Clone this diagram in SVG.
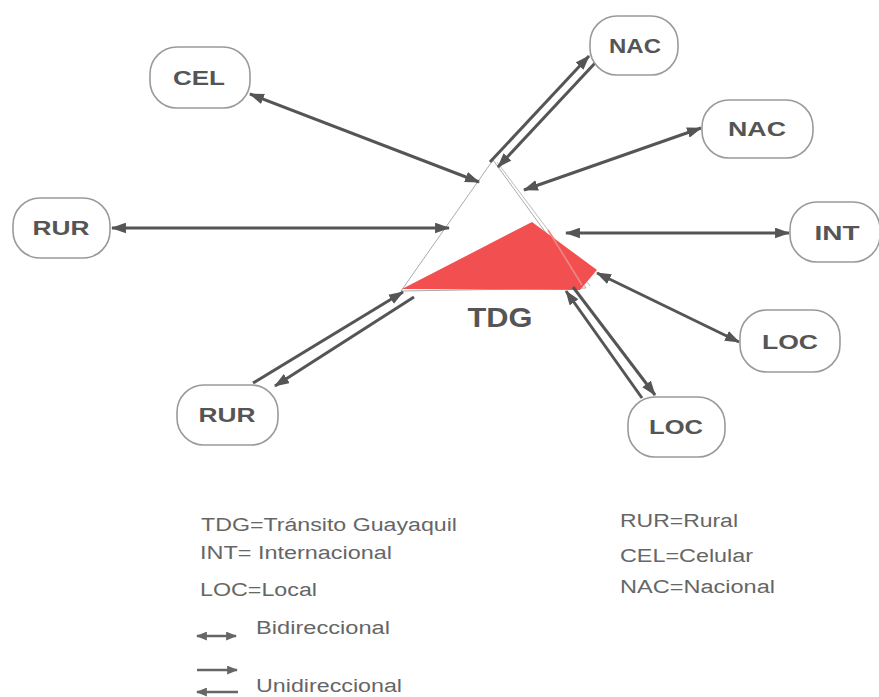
<svg xmlns="http://www.w3.org/2000/svg" width="879" height="697" viewBox="0 0 879 697">
<style>
.node rect{fill:#fff;stroke:#9a9a9a;stroke-width:1.6}
.node text{font-family:"Liberation Sans",Arial,sans-serif;font-weight:bold;font-size:21px;fill:#555;text-anchor:middle}
.c line{stroke:#555;stroke-width:3;fill:none}
.bi{marker-start:url(#ah);marker-end:url(#ah)}
.uni{marker-end:url(#ah)}
.lg line{stroke:#666;stroke-width:2.5}
.lbi{marker-start:url(#sh);marker-end:url(#sh)}
.luni{marker-end:url(#sh)}
.legend text{font-family:"Liberation Sans",Arial,sans-serif;font-size:18px;fill:#666}
</style>
<defs>
<marker id="ah" viewBox="0 0 14 10" refX="13" refY="5" markerWidth="15" markerHeight="11" markerUnits="userSpaceOnUse" orient="auto-start-reverse"><path d="M0,0 L14,5 L0,10 z" fill="#555"/></marker>
<marker id="sh" viewBox="0 0 10 8" refX="9" refY="4" markerWidth="11" markerHeight="9" markerUnits="userSpaceOnUse" orient="auto-start-reverse"><path d="M0,0 L10,4 L0,8 z" fill="#666"/></marker>
</defs>
<rect width="879" height="697" fill="#fff"/>

<g id="TDG">
<polygon points="493,160 401,291 586,288" fill="#fff" stroke="#aaa" stroke-width="1"/>
<line x1="497" y1="162" x2="590" y2="286" stroke="#bbb" stroke-width="1"/>
<polygon points="402,289 532,222 597,270 580,290" fill="#f25050"/>
<line x1="548" y1="230" x2="582" y2="285" stroke="#e88" stroke-width="1.5"/>
<text x="500" y="327" font-family="'Liberation Sans',Arial,sans-serif" font-weight="bold" font-size="27" fill="#555" text-anchor="middle" textLength="65" lengthAdjust="spacingAndGlyphs">TDG</text>
</g>

<g class="c" id="connectors">
<line class="bi" x1="250" y1="94" x2="479" y2="182"/>
<line class="bi" x1="112" y1="228" x2="449" y2="228"/>
<line class="uni" x1="490" y1="162" x2="589" y2="56"/>
<line class="uni" x1="596" y1="62" x2="498" y2="167"/>
<line class="bi" x1="524" y1="190" x2="701" y2="128"/>
<line class="bi" x1="566" y1="233" x2="789" y2="233"/>
<line class="bi" x1="597" y1="273" x2="739" y2="342"/>
<line class="uni" x1="642" y1="398" x2="566" y2="291"/>
<line class="uni" x1="573" y1="287" x2="655" y2="395"/>
<line class="uni" x1="253" y1="383" x2="403" y2="292"/>
<line class="uni" x1="414" y1="297" x2="275" y2="386"/>
</g>

<g class="node" id="CEL"><rect x="150" y="47" width="100" height="61" rx="27"/><text x="199" y="85" textLength="52" lengthAdjust="spacingAndGlyphs">CEL</text></g>
<g class="node" id="RUR1"><rect x="13" y="198" width="97" height="60" rx="27"/><text x="61" y="235" textLength="57" lengthAdjust="spacingAndGlyphs">RUR</text></g>
<g class="node" id="NAC1"><rect x="590" y="16" width="88" height="59" rx="27"/><text x="635" y="53" textLength="52" lengthAdjust="spacingAndGlyphs">NAC</text></g>
<g class="node" id="NAC2"><rect x="702" y="100" width="111" height="58" rx="27"/><text x="757" y="136" textLength="58" lengthAdjust="spacingAndGlyphs">NAC</text></g>
<g class="node" id="INT"><rect x="790" y="202" width="90" height="60" rx="27"/><text x="837" y="240" textLength="45" lengthAdjust="spacingAndGlyphs">INT</text></g>
<g class="node" id="LOC1"><rect x="740" y="310" width="100" height="62" rx="27"/><text x="790" y="349" textLength="56" lengthAdjust="spacingAndGlyphs">LOC</text></g>
<g class="node" id="LOC2"><rect x="628" y="397" width="97" height="60" rx="27"/><text x="676" y="434" textLength="54" lengthAdjust="spacingAndGlyphs">LOC</text></g>
<g class="node" id="RUR2"><rect x="177" y="385" width="101" height="60" rx="27"/><text x="227" y="422" textLength="57" lengthAdjust="spacingAndGlyphs">RUR</text></g>

<g class="legend" id="legend">
<text x="201" y="531" textLength="256" lengthAdjust="spacingAndGlyphs">TDG=Tránsito Guayaquil</text>
<text x="200" y="559" textLength="192" lengthAdjust="spacingAndGlyphs">INT= Internacional</text>
<text x="200" y="596" textLength="117" lengthAdjust="spacingAndGlyphs">LOC=Local</text>
<text x="256" y="634" textLength="134" lengthAdjust="spacingAndGlyphs">Bidireccional</text>
<text x="256" y="692" textLength="146" lengthAdjust="spacingAndGlyphs">Unidireccional</text>
<text x="620" y="527" textLength="118" lengthAdjust="spacingAndGlyphs">RUR=Rural</text>
<text x="620" y="562" textLength="133" lengthAdjust="spacingAndGlyphs">CEL=Celular</text>
<text x="620" y="593" textLength="155" lengthAdjust="spacingAndGlyphs">NAC=Nacional</text>
<g class="lg">
<line class="lbi" x1="197" y1="636" x2="236" y2="636"/>
<line class="luni" x1="197" y1="670" x2="237" y2="670"/>
<line class="luni" x1="238" y1="692" x2="197" y2="692"/>
</g>
</g>
</svg>
